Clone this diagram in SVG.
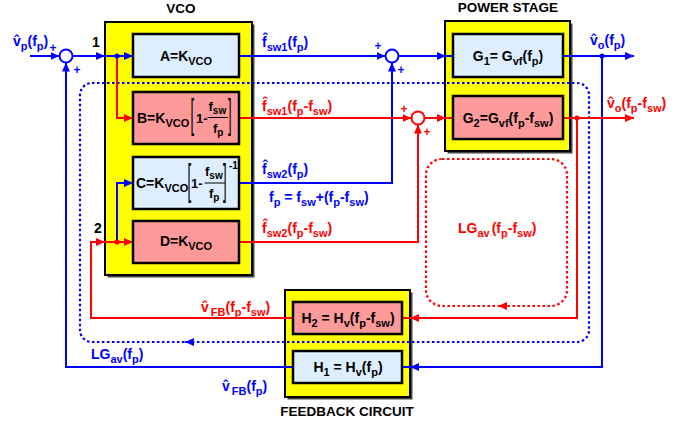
<svg xmlns="http://www.w3.org/2000/svg" width="687" height="426" viewBox="0 0 687 426">
<defs>
<style>
.t{font-family:"Liberation Sans",Arial,Helvetica,sans-serif;font-weight:bold}
.blk{font-size:14px;fill:#000}
.sub{font-size:11px}
.sm{font-size:10px}
.pl{font-size:12px}
.lb{font-size:14px}
.tb{fill:#0000ff}
.tr{fill:#ff0000}
.ttl{font-size:13.5px;fill:#000}
.br{font-family:"Liberation Sans",Arial,sans-serif;font-weight:normal;font-size:13px;fill:#000}
.cont{fill:#ffff00;stroke:#000;stroke-width:2}
.shd{fill:#444}
.bb{fill:#ddeeff;stroke:#000;stroke-width:2.5}
.rb{fill:#ff9a9a;stroke:#000;stroke-width:2.5}
.lnb{fill:none;stroke:#0000ff;stroke-width:2}
.lnr{fill:none;stroke:#ff0000;stroke-width:2}
.dtb{fill:none;stroke:#0000ff;stroke-width:2.2;stroke-dasharray:2.5 2.5}
.dtr{fill:none;stroke:#ff0000;stroke-width:2.2;stroke-dasharray:2.5 2.5}
.sumb{fill:#fff;stroke:#0000ff;stroke-width:2}
.sumr{fill:#fff;stroke:#ff0000;stroke-width:2}
.dotb{fill:#0000ff}
.dotr{fill:#ff0000}
.frac{stroke:#000;stroke-width:1}
</style>
<marker id="ab" markerUnits="userSpaceOnUse" markerWidth="10" markerHeight="8" refX="9" refY="4" orient="auto"><path d="M0,0 L9,4 L0,8 z" fill="#0000ff"/></marker>
<marker id="ar" markerUnits="userSpaceOnUse" markerWidth="10" markerHeight="8" refX="9" refY="4" orient="auto"><path d="M0,0 L9,4 L0,8 z" fill="#ff0000"/></marker>
</defs>
<rect width="687" height="426" fill="#fff"/>

<!-- containers -->
<g id="vco">
<rect class="shd" x="107.5" y="24.5" width="147" height="253"/>
<rect class="cont" x="105" y="22" width="147" height="253"/>
<text class="t ttl" x="181" y="13" text-anchor="middle">VCO</text>
</g>
<g id="power-stage">
<rect class="shd" x="447.5" y="23.5" width="125" height="130"/>
<rect class="cont" x="445" y="21" width="125" height="130"/>
<text class="t ttl" x="508" y="12" text-anchor="middle">POWER STAGE</text>
</g>
<g id="feedback-circuit">
<rect class="shd" x="287.5" y="292.5" width="125" height="107"/>
<rect class="cont" x="285" y="290" width="125" height="107"/>
<text class="t ttl" x="347" y="416" text-anchor="middle">FEEDBACK CIRCUIT</text>
</g>

<!-- connectors -->
<g id="connectors">
<path class="dtb" d="M92,83 H577 A12,12 0 0 1 589,95 V330 A12,12 0 0 1 577,342 H92 A12,12 0 0 1 80,330 V95 A12,12 0 0 1 92,83 Z"/>
<path class="lnb" d="M192,342 L185,342" marker-end="url(#ab)"/>
<path class="dtr" d="M442,159 H551 A16,16 0 0 1 567,175 V290 A16,16 0 0 1 551,306 H442 A16,16 0 0 1 426,290 V175 A16,16 0 0 1 442,159 Z"/>
<path class="lnr" d="M505,306 L498,306" marker-end="url(#ar)"/>

<path class="lnb" d="M30,56 L59.5,56" marker-end="url(#ab)"/>
<path class="lnb" d="M72.5,56 L105,56" marker-end="url(#ab)"/>
<path class="lnb" d="M105,56 L133,56" marker-end="url(#ab)"/>
<path class="lnr" d="M117,56 L117,118 L133,118" marker-end="url(#ar)"/>
<path class="lnb" d="M239,56 L385.5,56" marker-end="url(#ab)"/>
<path class="lnb" d="M398.5,56 L446,56" marker-end="url(#ab)"/>
<path class="lnb" d="M446,56 L453,56"/>
<path class="lnb" d="M239,183 L392,183 L392,62.5" marker-end="url(#ab)"/>
<path class="lnr" d="M239,118 L411.5,118" marker-end="url(#ar)"/>
<path class="lnr" d="M424.5,118 L446,118" marker-end="url(#ar)"/>
<path class="lnr" d="M446,118 L453,118"/>
<path class="lnr" d="M239,242 L418,242 L418,124.5" marker-end="url(#ar)"/>
<path class="lnb" d="M563,56 L634,56" marker-end="url(#ab)"/>
<path class="lnb" d="M602,56 L602,367 L410,367" marker-end="url(#ab)"/>
<path class="lnb" d="M410,367 L402,367"/>
<path class="lnr" d="M563,118 L634,118" marker-end="url(#ar)"/>
<path class="lnr" d="M577,118 L577,318 L410,318" marker-end="url(#ar)"/>
<path class="lnr" d="M410,318 L402,318"/>
<path class="lnr" d="M293,318 L91,318 L91,242 L105,242" marker-end="url(#ar)"/>
<path class="lnr" d="M105,242 L133,242" marker-end="url(#ar)"/>
<path class="lnb" d="M117,242 L117,183 L133,183" marker-end="url(#ab)"/>
<path class="lnb" d="M293,367 L66,367 L66,62.5" marker-end="url(#ab)"/>
<circle class="dotb" cx="117" cy="56" r="2.6"/>
<circle class="dotr" cx="117" cy="242" r="2.6"/>
<circle class="dotb" cx="602" cy="56" r="2.6"/>
<circle class="dotr" cx="577" cy="118" r="2.6"/>

<text class="t blk" x="96" y="47" text-anchor="middle" font-size="13">1</text>
<text class="t blk" x="98" y="233" text-anchor="middle" font-size="13">2</text>

<text class="t lb tb" x="13" y="46">v̂<tspan class="sub" dy="4">p</tspan><tspan dy="-4">(f</tspan><tspan class="sub" dy="4">p</tspan><tspan dy="-4">)</tspan></text>
<text class="t lb tb" x="262" y="47">f̂<tspan class="sub" dy="4">sw1</tspan><tspan dy="-4">(f</tspan><tspan class="sub" dy="4">p</tspan><tspan dy="-4">)</tspan></text>
<text class="t lb tr" x="262" y="111">f̂<tspan class="sub" dy="4">sw1</tspan><tspan dy="-4">(f</tspan><tspan class="sub" dy="4">p</tspan><tspan dy="-4">-f</tspan><tspan class="sub" dy="4">sw</tspan><tspan dy="-4">)</tspan></text>
<text class="t lb tb" x="262" y="174">f̂<tspan class="sub" dy="4">sw2</tspan><tspan dy="-4">(f</tspan><tspan class="sub" dy="4">p</tspan><tspan dy="-4">)</tspan></text>
<text class="t lb tb" x="269" y="202">f<tspan class="sub" dy="4">p</tspan><tspan dy="-4"> = f</tspan><tspan class="sub" dy="4">sw</tspan><tspan dy="-4">+(f</tspan><tspan class="sub" dy="4">p</tspan><tspan dy="-4">-f</tspan><tspan class="sub" dy="4">sw</tspan><tspan dy="-4">)</tspan></text>
<text class="t lb tr" x="262" y="233">f̂<tspan class="sub" dy="4">sw2</tspan><tspan dy="-4">(f</tspan><tspan class="sub" dy="4">p</tspan><tspan dy="-4">-f</tspan><tspan class="sub" dy="4">sw</tspan><tspan dy="-4">)</tspan></text>
<text class="t lb tb" x="590" y="45">v̂<tspan class="sub" dy="4">o</tspan><tspan dy="-4">(f</tspan><tspan class="sub" dy="4">p</tspan><tspan dy="-4">)</tspan></text>
<text class="t lb tr" x="607" y="108">v̂<tspan class="sub" dy="4">o</tspan><tspan dy="-4">(f</tspan><tspan class="sub" dy="4">p</tspan><tspan dy="-4">-f</tspan><tspan class="sub" dy="4">sw</tspan><tspan dy="-4">)</tspan></text>
<text class="t lb tr" x="458" y="233">LG<tspan class="sub" dy="4">av</tspan><tspan dy="-4" dx="2">(f</tspan><tspan class="sub" dy="4">p</tspan><tspan dy="-4">-f</tspan><tspan class="sub" dy="4">sw</tspan><tspan dy="-4">)</tspan></text>
<text class="t lb tr" x="201" y="312">v̂<tspan class="sub" dy="4" dx="2">FB</tspan><tspan dy="-4">(f</tspan><tspan class="sub" dy="4">p</tspan><tspan dy="-4">-f</tspan><tspan class="sub" dy="4">sw</tspan><tspan dy="-4">)</tspan></text>
<text class="t lb tb" x="91" y="359">LG<tspan class="sub" dy="4">av</tspan><tspan dy="-4">(f</tspan><tspan class="sub" dy="4">p</tspan><tspan dy="-4">)</tspan></text>
<text class="t lb tb" x="222" y="391">v̂<tspan class="sub" dy="4" dx="2">FB</tspan><tspan dy="-4">(f</tspan><tspan class="sub" dy="4">p</tspan><tspan dy="-4">)</tspan></text>
</g>

<!-- summing junctions -->
<g id="sum1">
<circle class="sumb" cx="66" cy="56" r="6.5"/>
<text class="t pl tb" x="53" y="51.5" text-anchor="middle">+</text>
<text class="t pl tb" x="77" y="73.5" text-anchor="middle">+</text>
</g>
<g id="sum2">
<circle class="sumb" cx="392" cy="56" r="6.5"/>
<text class="t pl tb" x="378" y="49.5" text-anchor="middle">+</text>
<text class="t pl tb" x="401" y="73.5" text-anchor="middle">+</text>
</g>
<g id="sum3">
<circle class="sumr" cx="418" cy="118" r="6.5"/>
<text class="t pl tr" x="404" y="112.5" text-anchor="middle">+</text>
<text class="t pl tr" x="427" y="135.5" text-anchor="middle">+</text>
</g>

<!-- blocks -->
<g id="block-a">
<rect class="bb" x="133" y="34" width="106" height="43"/>
<text class="t blk" x="186" y="61" text-anchor="middle">A=K<tspan class="sub" dy="4">VCO</tspan></text>
</g>
<g id="block-b">
<rect class="rb" x="133" y="92" width="106" height="52"/>
<text class="t blk" x="137" y="123">B=K<tspan class="sub" dy="4">VCO</tspan></text>
<text class="br" transform="translate(190.5,128.3) scale(1,3.1)">[</text>
<text class="t" x="196" y="123" font-size="13">1-</text>
<text class="t" x="208.5" y="111" font-size="13">f<tspan class="sm" dy="3">sw</tspan></text>
<line class="frac" x1="207.5" y1="117.5" x2="228" y2="117.5"/>
<text class="t" x="213" y="133" font-size="13">f<tspan class="sm" dy="3">p</tspan></text>
<text class="br" transform="translate(228,128.3) scale(1,3.1)">]</text>
</g>
<g id="block-c">
<rect class="bb" x="133" y="157" width="106" height="52"/>
<text class="t blk" x="136" y="188">C=K<tspan class="sub" dy="4">VCO</tspan></text>
<text class="br" transform="translate(187.5,194.2) scale(1,3.3)">[</text>
<text class="t" x="191" y="188" font-size="13">1-</text>
<text class="t" x="205" y="176" font-size="13">f<tspan class="sm" dy="3">sw</tspan></text>
<line class="frac" x1="204.5" y1="183" x2="225" y2="183"/>
<text class="t" x="209" y="198" font-size="13">f<tspan class="sm" dy="3">p</tspan></text>
<text class="br" transform="translate(223,194.2) scale(1,3.3)">]</text>
<text class="t sm" x="229" y="169">-1</text>
</g>
<g id="block-d">
<rect class="rb" x="133" y="221" width="106" height="42"/>
<text class="t blk" x="186" y="246" text-anchor="middle">D=K<tspan class="sub" dy="4">VCO</tspan></text>
</g>
<g id="block-g1">
<rect class="bb" x="453" y="34" width="110" height="43"/>
<text class="t blk" x="508" y="61" text-anchor="middle">G<tspan class="sub" dy="4">1</tspan><tspan dy="-4">= G</tspan><tspan class="sub" dy="4">vf</tspan><tspan dy="-4">(f</tspan><tspan class="sub" dy="4">p</tspan><tspan dy="-4">)</tspan></text>
</g>
<g id="block-g2">
<rect class="rb" x="453" y="96" width="110" height="43"/>
<text class="t blk" x="508" y="123" text-anchor="middle">G<tspan class="sub" dy="4">2</tspan><tspan dy="-4">=G</tspan><tspan class="sub" dy="4">vf</tspan><tspan dy="-4">(f</tspan><tspan class="sub" dy="4">p</tspan><tspan dy="-4">-f</tspan><tspan class="sub" dy="4">sw</tspan><tspan dy="-4">)</tspan></text>
</g>
<g id="block-h2">
<rect class="rb" x="293" y="302" width="109" height="32"/>
<text class="t blk" x="348" y="323" text-anchor="middle">H<tspan class="sub" dy="4">2</tspan><tspan dy="-4"> = H</tspan><tspan class="sub" dy="4">v</tspan><tspan dy="-4">(f</tspan><tspan class="sub" dy="4">p</tspan><tspan dy="-4">-f</tspan><tspan class="sub" dy="4">sw</tspan><tspan dy="-4">)</tspan></text>
</g>
<g id="block-h1">
<rect class="bb" x="293" y="351" width="109" height="32"/>
<text class="t blk" x="348" y="372" text-anchor="middle">H<tspan class="sub" dy="4">1</tspan><tspan dy="-4"> = H</tspan><tspan class="sub" dy="4">v</tspan><tspan dy="-4">(f</tspan><tspan class="sub" dy="4">p</tspan><tspan dy="-4">)</tspan></text>
</g>
</svg>
